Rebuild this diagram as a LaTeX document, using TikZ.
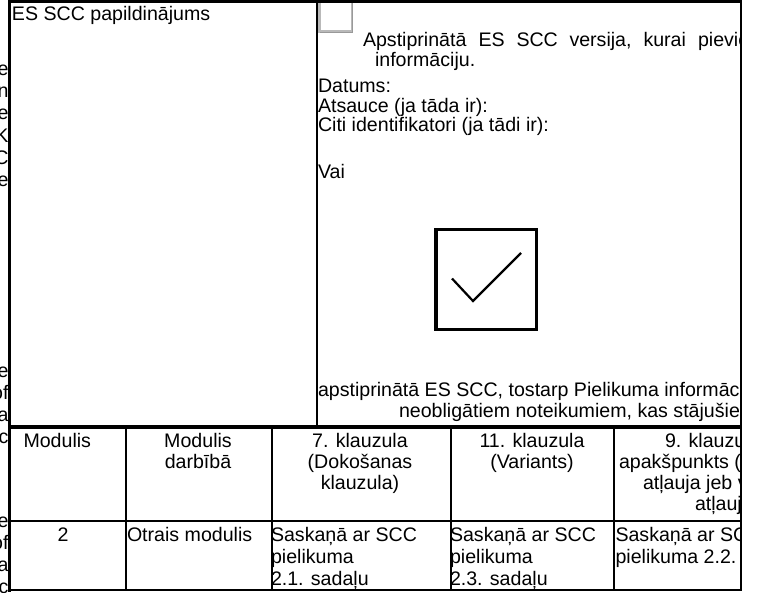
\documentclass[tikz,border=0pt]{standalone}
\usepackage{fontspec}
\setmainfont{Liberation Sans}
\begin{document}
\begin{tikzpicture}[x=1pt,y=-1pt,
  txt/.style={inner sep=0pt, outer sep=0pt, font=\fontsize{19.6}{20}\selectfont, anchor=base west},
  ctxt/.style={txt, anchor=base},
  rtxt/.style={txt, anchor=base east},
  rule/.style={line width=2pt, black},
  boldrule/.style={line width=3.4pt, black}]
\def\R{741}
\def\C{614}
\useasboundingbox (0,0) rectangle (758,592);
\fill[white] (0,0) rectangle (758,592);

% fragments of the neighbouring column
\begin{scope}
\clip (0,0) rectangle (8,592);
\node[rtxt] (l1) at (8.5,75) {e};
\node[rtxt] (l2) at (8.5,97) {n};
\node[rtxt] (l3) at (8.5,119.5) {e};
\node[rtxt] (l4) at (8.5,142) {K};
\node[rtxt] (l5) at (8.5,164) {C};
\node[rtxt] (l6) at (8.5,186.5) {e};
\node[rtxt] (l7) at (8.5,377) {e};
\node[rtxt] (l8) at (8.5,399) {of};
\node[rtxt] (l9) at (8.5,421) {a};
\node[rtxt] (l10) at (8.5,443) {c};
\node[rtxt] (l11) at (8.5,527) {e};
\node[rtxt] (l12) at (8.5,549) {of};
\node[rtxt] (l13) at (8.5,571) {a};
\node[rtxt] (l14) at (8.5,593) {c};
\end{scope}

% top left cell
\node[txt] (title) at (12,20.7) {ES SCC papildinājums};

% top right cell
\begin{scope}
\clip (317,0) rectangle (\R,427);
\node[txt] (w1) at (363,46.5) {Apstiprinātā};
\node[txt] (w2) at (478.5,46.5) {ES};
\node[txt] (w3) at (516.5,46.5) {SCC};
\node[txt] (w4) at (569.5,46.5) {versija,};
\node[txt] (w5) at (643.5,46.5) {kurai};
\node[txt] (w6) at (698,46.5) {pievienota};
\node[txt] (info) at (375,66.5) {informāciju.};
\node[txt] (dat) at (318,92.5) {Datums:};
\node[txt] (ats) at (318,112) {Atsauce (ja tāda ir):};
\node[txt] (citi) at (318,131.5) {Citi identifikatori (ja tādi ir):};
\node[txt] (vai) at (318,178) {Vai};
\node[txt] (apst) at (318,396) {apstiprinātā ES SCC, tostarp Pielikuma informācijā};
\node[txt] (neob) at (399,417) {neobligātiem noteikumiem, kas stājušies spēkā};
\end{scope}

% small grey box
\draw[gray!55, line width=2.6pt] (319.5,1.5) rectangle (352,31.5);
\draw[gray!80, line width=1pt] (352.8,2) -- (352.8,32.3) -- (320,32.3);

% big tick box
\draw[line width=3.6pt] (436,229.6) rectangle (536.4,329.4);
\draw[line width=2.2pt] (452,278.5) -- (473,301) -- (521,253);

% table header
\node[txt] (h1) at (23.5,447) {Modulis};
\node[ctxt] (h2a) at (198,447) {Modulis};
\node[ctxt] (h2b) at (198,468) {darbībā};
\node[ctxt] (h3a) at (360,447) {7. klauzula};
\node[ctxt] (h3b) at (360,468) {(Dokošanas};
\node[ctxt] (h3c) at (360,489) {klauzula)};
\node[ctxt] (h4a) at (532,447) {11. klauzula};
\node[ctxt] (h4b) at (532,468) {(Variants)};
\begin{scope}
\clip (\C,427) rectangle (\R,521);
\node[txt] (h5a) at (665,447) {9. klauzula};
\node[txt] (h5b) at (619,468) {apakšpunkts (a)};
\node[txt] (h5c) at (643,489) {atļauja jeb vispārēja};
\node[txt] (h5d) at (695,510) {atļauja};
\end{scope}

% table body
\node[ctxt] (b1) at (63,541) {2};
\node[txt] (b2) at (127,541) {Otrais modulis};
\begin{scope}
\clip (273,521) rectangle (451,592);
\node[txt] (b3a) at (271,541) {Saskaņā ar SCC};
\node[txt] (b3b) at (271,563) {pielikuma};
\node[txt] (b3c) at (271,585) {2.1. sadaļu};
\end{scope}
\begin{scope}
\clip (452,521) rectangle (\C,592);
\node[txt] (b4a) at (450,541) {Saskaņā ar SCC};
\node[txt] (b4b) at (450,563) {pielikuma};
\node[txt] (b4c) at (450,585) {2.3. sadaļu};
\end{scope}
\begin{scope}
\clip (\C+1,521) rectangle (\R,592);
\node[txt] (b5a) at (\C+1.5,541) {Saskaņā ar SCC};
\node[txt] (b5b) at (\C+1.5,563) {pielikuma 2.2.};
\end{scope}

% rules
\draw[boldrule] (9.3,0) -- (9.3,592);
\draw[boldrule] (8,0.9) -- (\R,0.9);
\draw[rule] (317,0) -- (317,427);
\draw[boldrule] (8,427) -- (\R,427);
\draw[rule] (8,521) -- (\R,521);
\draw[rule] (8,590) -- (\R,590);
\draw[rule] (\R,0) -- (\R,591);
\foreach \cx in {126,272,451,\C} \draw[rule] (\cx,427) -- (\cx,590);
\end{tikzpicture}
\end{document}
